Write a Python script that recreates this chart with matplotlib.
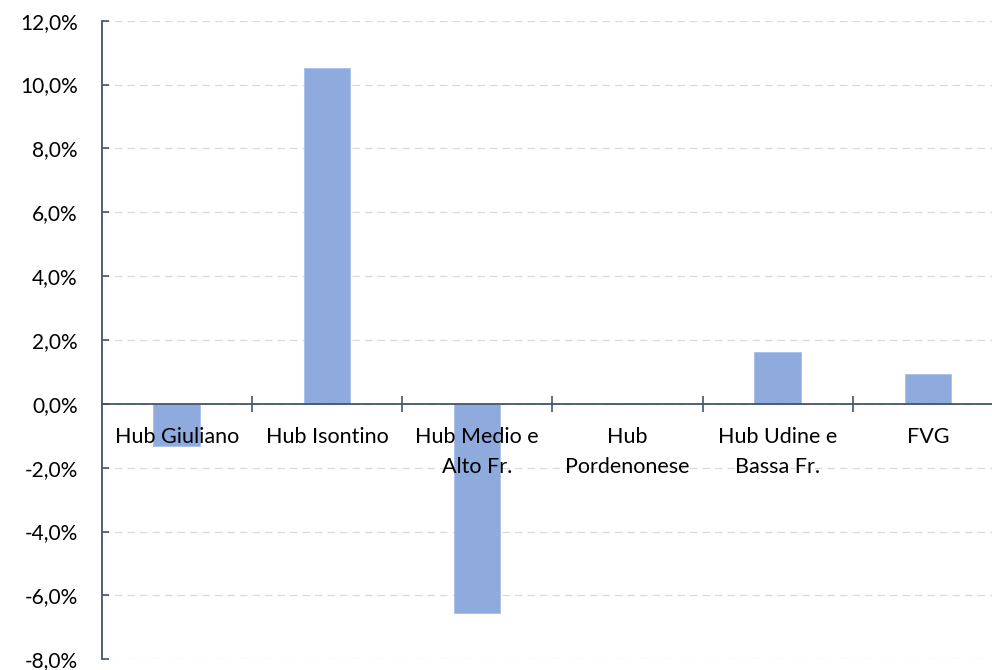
import numpy as np
import matplotlib.pyplot as plt
from matplotlib.ticker import FuncFormatter, MultipleLocator

categories = ['Hub Giuliano', 'Hub Isontino', 'Hub Medio e\nAlto Fr.',
              'Hub\nPordenonese', 'Hub Udine e\nBassa Fr.', 'FVG']
values = [-1.31, 10.51, -6.54, 0.0, 1.62, 0.92]

plt.rcParams['font.family'] = ['Lato', 'DejaVu Sans']

fig = plt.figure(figsize=(9.92, 6.70), dpi=100)
ax = fig.add_axes([101.5 / 992, 1 - 659.3 / 670, (992 - 101.5) / 992, 638.6 / 670])

x = np.arange(len(categories))
ax.bar(x, values, width=0.31, color='#8FAADC', edgecolor='#A9BFE6', linewidth=0.6, zorder=2)

axis_col = '#44546A'
ax.set_ylim(-8, 12)
ax.set_xlim(-0.5, 5 + (992 - 928) / 150.3)
ax.yaxis.set_major_locator(MultipleLocator(2))
ax.yaxis.set_major_formatter(FuncFormatter(lambda v, p: f'{v:.1f}%'.replace('.', ',')))
ax.grid(axis='y', color='#D9D9D9', linestyle=(0, (6, 4)), linewidth=0.9)
ax.xaxis.set_zorder(3)

for s in ['top', 'right']:
    ax.spines[s].set_visible(False)
ax.spines['left'].set_color(axis_col)
ax.spines['left'].set_linewidth(1.3)
ax.spines['bottom'].set_position(('data', 0))
ax.spines['bottom'].set_color(axis_col)
ax.spines['bottom'].set_linewidth(1.3)
ax.spines['bottom'].set_zorder(3)

ax.set_xticks(x)
ax.set_xticklabels(categories, linespacing=1.6, va='top')
ax.set_xticks(np.arange(0.5, 5.5, 1), minor=True)
ax.tick_params(axis='x', which='major', length=0, pad=17, labelsize=15.5, colors='#000000')
ax.tick_params(axis='x', which='minor', direction='inout', length=11.5, width=1.2, color=axis_col)
ax.tick_params(axis='y', direction='in', length=5, width=1.2, color=axis_col, pad=17, labelsize=15)

plt.savefig('out.png', dpi=100)
